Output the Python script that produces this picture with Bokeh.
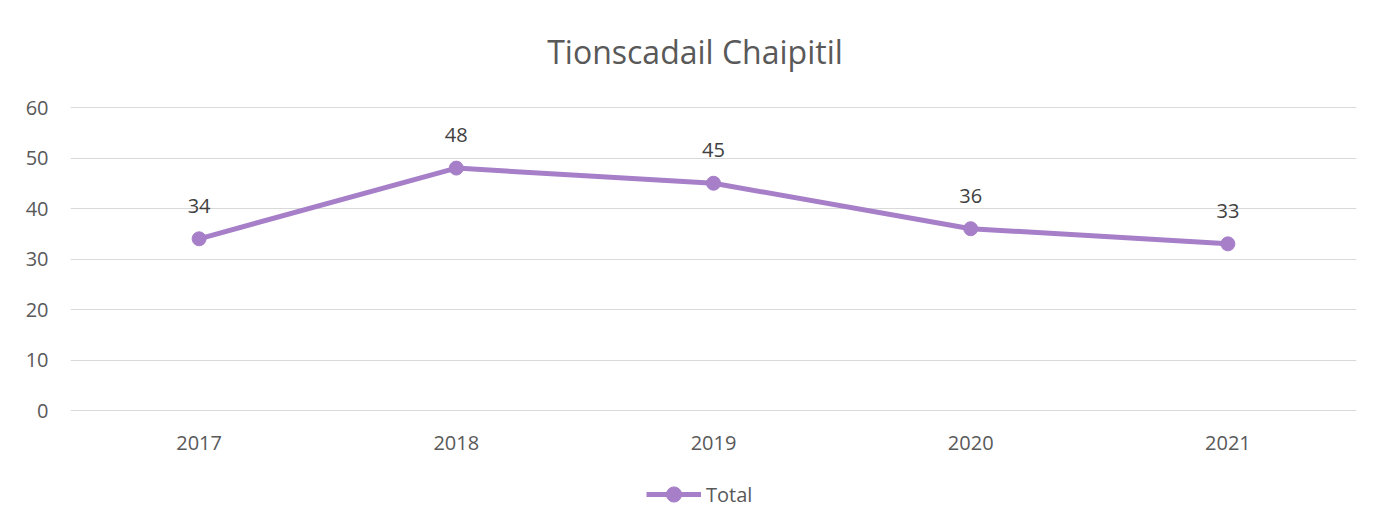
from bokeh.plotting import figure
from bokeh.models import ColumnDataSource, LabelSet, Label, Legend, LegendItem, Range1d, FixedTicker
from bokeh.core.properties import value
from bokeh.embed import file_html
from bokeh.resources import INLINE

years = ["2017", "2018", "2019", "2020", "2021"]
totals = [34, 48, 45, 36, 33]
y_ticks = [0, 10, 20, 30, 40, 50, 60]
series_name = "Total"
title_text = "Tionscadail Chaipitil"

FONT = "Open Sans"
PURPLE = "#A67FC8"
GRID = "#D9D9D9"

# frame spans pixel rows 10..520; value 60 at row 107 and 0 at row 410
PX = 60 / 303
Y_TOP = 60 + 97 * PX
Y_BOTTOM = -110 * PX

src = ColumnDataSource(dict(x=years, y=totals, lbl=[str(v) for v in totals]))
cat = ColumnDataSource(dict(x=years, y=[0] * len(years), lbl=years))

p = figure(width=1370, height=520, x_range=years, y_range=Range1d(Y_BOTTOM, Y_TOP),
           output_backend="svg", toolbar_location=None, x_axis_location=None,
           min_border_left=70, min_border_right=14, min_border_top=10, min_border_bottom=0)
p.outline_line_color = None
p.background_fill_color = "white"
p.border_fill_color = "white"

p.add_layout(Label(x=624.5, y=469, x_units="screen", y_units="screen", text=title_text,
                   text_align="center", text_baseline="middle",
                   text_font=FONT, text_font_size="32px", text_color="#595959"))

p.xgrid.grid_line_color = None
p.ygrid.grid_line_color = GRID
p.ygrid.grid_line_width = 1
p.yaxis.ticker = FixedTicker(ticks=y_ticks)
p.yaxis.major_tick_line_color = None
p.yaxis.minor_tick_line_color = None
p.yaxis.major_tick_in = 0
p.yaxis.major_tick_out = 0
p.yaxis.axis_line_color = None
p.yaxis.major_label_text_font = FONT
p.yaxis.major_label_text_font_size = "20px"
p.yaxis.major_label_text_color = "#595959"
p.yaxis.major_label_standoff = 22

ln = p.line("x", "y", source=src, line_color=PURPLE, line_width=5)
sc = p.scatter("x", "y", source=src, size=14, fill_color=PURPLE, line_color=PURPLE)

labels = LabelSet(x="x", y="y", text="lbl", source=src, y_offset=33,
                  text_align="center", text_baseline="middle",
                  text_font=value(FONT), text_font_size=value("20px"), text_color="#404040")
p.add_layout(labels)

cat_labels = LabelSet(x="x", y="y", text="lbl", source=cat, y_offset=-32,
                      text_align="center", text_baseline="middle",
                      text_font=value(FONT), text_font_size=value("20px"), text_color="#595959")
p.add_layout(cat_labels)

legend = Legend(items=[LegendItem(label=series_name, renderers=[ln, sc])],
                orientation="horizontal", location=(576, 7),
                label_text_font=FONT, label_text_font_size="20px", label_text_color="#595959",
                border_line_color=None, background_fill_alpha=0, glyph_width=55, glyph_height=38,
                label_standoff=5, margin=0, padding=0, spacing=0)
p.add_layout(legend)

open("out.html", "w").write(file_html(p, INLINE))
